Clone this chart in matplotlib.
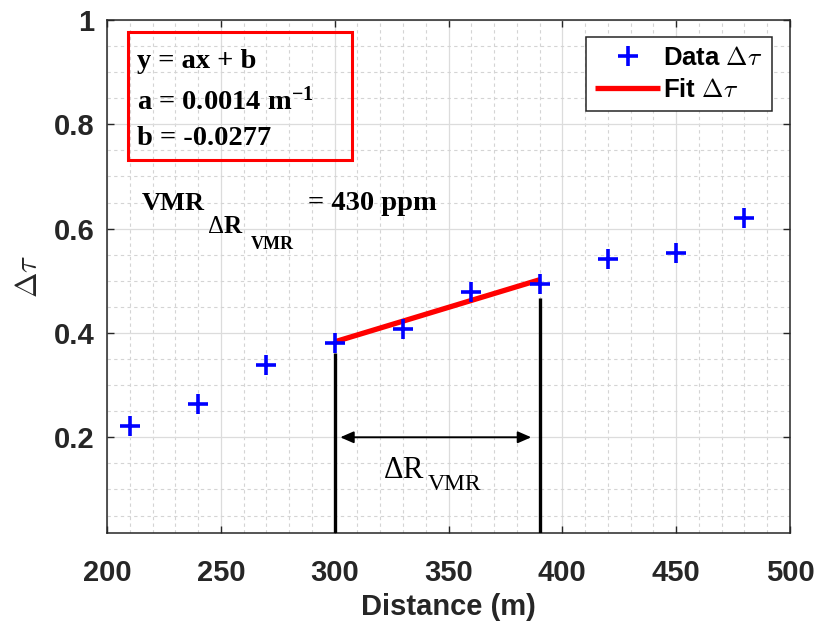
import matplotlib
matplotlib.use("Agg")
import matplotlib.pyplot as plt
from matplotlib.font_manager import FontProperties
from matplotlib.patches import Rectangle
from matplotlib.ticker import MultipleLocator, FormatStrFormatter

plt.rcParams['mathtext.fontset'] = 'custom'
plt.rcParams['mathtext.rm'] = 'Liberation Serif'
plt.rcParams['mathtext.bf'] = 'Liberation Serif:bold'
plt.rcParams['mathtext.it'] = 'Liberation Serif:italic'

# data
distance = [210, 240, 270, 300, 330, 360, 390, 420, 450, 480]
delta_tau = [0.222, 0.264, 0.339, 0.381, 0.408, 0.479, 0.494, 0.542, 0.554, 0.621]
fit_x = [300, 390]
fit_y = [0.383, 0.502]
range_edges = [300, 390]
edge_tops = [0.362, 0.467]
arrow_y = 0.2
fit_lines = ["y = ax + b", "a = 0.0014 m$^{\\mathbf{-1}}$", "b = -0.0277"]
vmr_value = "= 430 ppm"

fig = plt.figure(figsize=(8.18, 6.29), dpi=100)
ax = fig.add_axes([107 / 818, 1 - 533 / 629, 683 / 818, 513 / 629])

ax.plot(distance, delta_tau, '+', color='blue', ms=15, mew=2.6,
        label=r'Data $\Delta\tau$', zorder=4)
ax.plot(fit_x, fit_y, '-', color='red', lw=3.8, label=r'Fit $\Delta\tau$',
        zorder=3, solid_capstyle='butt')

ax.set_xlim(200, 500)
ax.set_ylim(0.0165, 1)
ax.vlines(range_edges, 0.0165, edge_tops, color='black', lw=2.4, zorder=3)
ax.annotate('', xy=(range_edges[1], arrow_y), xytext=(range_edges[0], arrow_y),
            arrowprops=dict(arrowstyle='<|-|>,head_length=0.8,head_width=0.35',
                            color='black', lw=1.4, shrinkA=4, shrinkB=6))

ax.xaxis.set_major_locator(MultipleLocator(50))
ax.xaxis.set_minor_locator(MultipleLocator(10))
ax.yaxis.set_major_locator(MultipleLocator(0.2))
ax.yaxis.set_minor_locator(MultipleLocator(0.05))
ax.yaxis.set_major_formatter(FormatStrFormatter('%g'))
ax.grid(which='major', color='#dcdcdc', lw=0.9, ls='-')
ax.grid(which='minor', color='#d4d4d4', lw=0.8, ls=(0, (3, 3)))
ax.set_axisbelow(True)

ax.tick_params(which='major', direction='in', length=5, width=1, color='#262626',
               top=True, right=True, labelsize=21, labelcolor='#262626')
ax.tick_params(which='minor', length=0)
ax.tick_params(axis='x', pad=19)
ax.tick_params(axis='y', pad=9)
for lab in ax.get_xticklabels() + ax.get_yticklabels():
    lab.set_fontfamily('Liberation Sans')
    lab.set_fontweight('bold')
for sp in ax.spines.values():
    sp.set_color('#262626')
    sp.set_linewidth(1.1)

ax.set_xlabel('Distance (m)', fontsize=21, fontweight='bold', family='Liberation Sans',
              color='#262626', labelpad=4)
ylab_font = FontProperties(family='DejaVu Sans', size=22, math_fontfamily='cm')
ax.set_ylabel(r'$\Delta\tau$', fontproperties=ylab_font, color='#262626')
ax.yaxis.set_label_coords(-0.093, 0.5)

leg_font = FontProperties(family='Liberation Sans', weight='bold', size=18.5,
                          math_fontfamily='cm')
leg = ax.legend(loc='upper right', bbox_to_anchor=(0.9736, 0.967), borderaxespad=0,
                prop=leg_font, fancybox=False, framealpha=1, edgecolor='#262626',
                handlelength=2.5, handletextpad=0.15, borderpad=0.35, labelspacing=0.3)
leg.get_frame().set_linewidth(1.1)

# fit parameters box
ax.add_patch(Rectangle((0.0307, 0.727), 0.328, 0.2496, transform=ax.transAxes,
                       fill=False, edgecolor='red', lw=2.2, zorder=5))
for txt, yb in zip(fit_lines, [0.906, 0.825, 0.756]):
    ax.text(0.044, yb, txt, transform=ax.transAxes, ha='left', va='baseline',
            family='Liberation Serif', fontweight='bold', fontsize=20.5, zorder=6)

# VMR label with nested subscripts, pieces offset in points from the base text
serif_b = dict(family='Liberation Serif', fontweight='bold', ha='left',
               va='baseline', zorder=6)
vmr_xy = (215.4, 0.636)
ax.annotate('VMR', vmr_xy, fontsize=19, **serif_b)
ax.annotate(r'$\Delta$R', vmr_xy, xytext=(47, -17), textcoords='offset points',
            fontsize=18, **serif_b)
ax.annotate('VMR', vmr_xy, xytext=(78, -28), textcoords='offset points',
            fontsize=13, **serif_b)
ax.text(288.3, vmr_xy[1], vmr_value, fontsize=20.5, **serif_b)

# range label under the arrow
serif = dict(family='Liberation Serif', ha='left', va='baseline', zorder=6)
dr_xy = (321.2, 0.121)
ax.annotate(r'$\Delta$R', dr_xy, fontsize=22, **serif)
ax.annotate('VMR', dr_xy, xytext=(32, -8.5), textcoords='offset points',
            fontsize=17, **serif)

fig.savefig('out.png', dpi=100)
